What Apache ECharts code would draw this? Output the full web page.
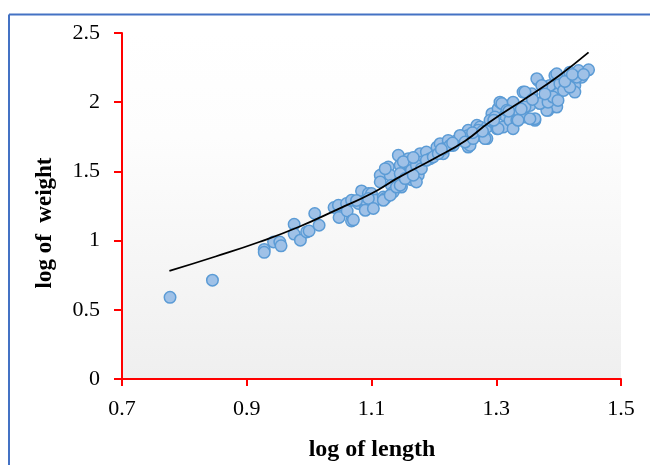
<!DOCTYPE html>
<html>
<head>
<meta charset="utf-8">
<script src="https://cdn.jsdelivr.net/npm/echarts@6/dist/echarts.min.js"></script>
<style>
html,body{margin:0;padding:0;background:#fff;}
#chart{width:650px;height:465px;}
</style>
</head>
<body>
<div id="chart"></div>
<script>
// Observed data: log of length vs log of weight
const logLength = [
0.777,0.845,0.928,0.928,0.943,0.953,0.955,0.976,0.976,0.986,0.996,1.000,1.009,1.016,1.040,1.047,1.048,1.060,1.061,1.068,
1.068,1.071,1.079,1.084,1.090,1.090,1.095,1.090,1.100,1.106,1.114,1.114,1.119,1.122,1.127,1.130,1.132,1.135,1.143,1.146,
1.146,1.148,1.159,1.159,1.164,1.175,1.178,1.180,1.188,1.194,1.205,1.210,1.215,1.223,1.231,1.242,1.253,1.255,1.247,1.255,
1.258,1.269,1.274,1.274,1.285,1.285,1.293,1.295,1.301,1.303,1.306,1.311,1.314,1.322,1.327,1.333,1.335,1.343,1.346,1.354,
1.357,1.362,1.367,1.373,1.376,1.383,1.386,1.394,1.397,1.399,1.407,1.413,1.418,1.426,1.426,1.432,1.437,1.448,1.381,1.362,
1.346,1.076,1.095,1.103,1.119,1.130,1.140,1.146,1.154,1.164,1.172,1.180,1.188,1.199,1.207,1.215,1.226,1.237,1.245,1.255,
1.122,1.151,1.167,1.172,1.167,1.242,1.250,1.263,1.271,1.282,1.290,1.298,1.303,1.309,1.317,1.327,1.335,1.346,1.354,1.370,
1.383,1.391,1.399,1.402,1.408,1.418,1.429,1.397,1.365,1.373,
1.212,1.230,1.262,1.278,1.296,1.320,1.340,1.358,1.378,1.410,1.422,1.440
];
const logWeight = [
0.590,0.714,0.936,0.915,0.990,0.990,0.962,1.118,1.047,1.003,1.063,1.070,1.196,1.111,1.239,1.255,1.167,1.268,1.214,1.142,
1.291,1.150,1.268,1.359,1.232,1.291,1.340,1.219,1.340,1.291,1.472,1.424,1.315,1.305,1.532,1.472,1.400,1.351,1.616,1.544,
1.484,1.387,1.592,1.556,1.440,1.472,1.628,1.568,1.640,1.592,1.676,1.700,1.628,1.724,1.688,1.748,1.773,1.676,1.760,1.797,
1.688,1.833,1.760,1.820,1.820,1.737,1.917,1.856,1.809,1.953,2.000,1.820,1.905,1.869,2.000,1.869,1.941,2.073,1.893,1.977,
2.061,1.869,2.157,2.000,1.990,1.941,2.121,2.193,1.965,2.061,2.134,2.181,2.217,2.121,2.073,2.229,2.181,2.234,1.941,1.881,
2.073,1.290,1.304,1.232,1.291,1.328,1.387,1.400,1.448,1.508,1.544,1.520,1.580,1.604,1.628,1.664,1.688,1.724,1.737,1.760,
1.520,1.570,1.600,1.424,1.472,1.760,1.712,1.737,1.797,1.737,1.869,1.893,1.809,1.990,1.941,1.809,1.869,1.965,1.881,1.990,
2.000,2.037,2.013,2.134,2.085,2.109,2.181,2.205,2.170,2.121,
1.660,1.705,1.780,1.790,1.870,1.935,1.950,2.020,2.060,2.150,2.200,2.200
];
// Trend line
const trendLength = [0.776,0.85,0.92,0.984,1.05,1.1,1.143,1.2,1.25,1.289,1.35,1.4,1.448];
const trendWeight = [0.781,0.885,0.99,1.10,1.235,1.34,1.455,1.592,1.72,1.855,2.036,2.19,2.36];

const xTitle = 'log of length';
const yTitle = 'log of  weight';

const scatterData = logLength.map((x, i) => [x, logWeight[i]]);
const trendData = trendLength.map((x, i) => [x, trendWeight[i]]);

const chart = echarts.init(document.getElementById('chart'), null, {renderer: 'canvas'});
const serif = '"Liberation Serif", "Times New Roman", serif';
chart.setOption({
  animation: false,
  backgroundColor: '#ffffff',
  grid: {
    left: 122, top: 33, right: 29, bottom: 86,
    show: true,
    borderWidth: 0,
    backgroundColor: new echarts.graphic.LinearGradient(0, 0, 0, 1, [
      {offset: 0, color: '#ffffff'},
      {offset: 0.3, color: '#fdfdfd'},
      {offset: 1, color: '#efefef'}
    ])
  },
  xAxis: {
    type: 'value', min: 0.7, max: 1.5, interval: 0.2,
    axisLine: {show: true, lineStyle: {color: '#ff0000', width: 2}},
    axisTick: {show: true, length: 7, lineStyle: {color: '#ff0000', width: 2}},
    splitLine: {show: false},
    axisLabel: {color: '#000', fontFamily: serif, fontSize: 22, margin: 19,
      formatter: v => (Math.round(v * 10) / 10).toFixed(1)}
  },
  yAxis: {
    type: 'value', min: 0, max: 2.5, interval: 0.5,
    axisLine: {show: true, lineStyle: {color: '#ff0000', width: 2}},
    axisTick: {show: true, length: 8, lineStyle: {color: '#ff0000', width: 2}},
    splitLine: {show: false},
    axisLabel: {color: '#000', fontFamily: serif, fontSize: 22, margin: 22}
  },
  graphic: [
    {type: 'line', shape: {x1: 9, y1: 14.5, x2: 650, y2: 14.5}, style: {stroke: '#4472c4', lineWidth: 2}, silent: true},
    {type: 'line', shape: {x1: 9, y1: 14.5, x2: 9, y2: 465}, style: {stroke: '#4472c4', lineWidth: 2}, silent: true},
    {type: 'text', x: 372, y: 450, style: {text: xTitle, font: 'bold 24px ' + serif, fill: '#000', align: 'center', verticalAlign: 'middle'}},
    {type: 'text', x: 45, y: 223, rotation: Math.PI / 2, style: {text: yTitle, font: 'bold 23px ' + serif, fill: '#000', align: 'center', verticalAlign: 'middle'}}
  ],
  series: [
    {
      type: 'scatter', data: scatterData, symbolSize: 11.5,
      itemStyle: {color: '#9fc1e7', borderColor: '#5b9bd5', borderWidth: 1.5, opacity: 1},
      z: 2
    },
    {
      type: 'line', data: trendData, smooth: true, showSymbol: false, symbol: 'none',
      lineStyle: {color: '#000', width: 1.8},
      z: 3
    }
  ]
});
</script>
</body>
</html>
